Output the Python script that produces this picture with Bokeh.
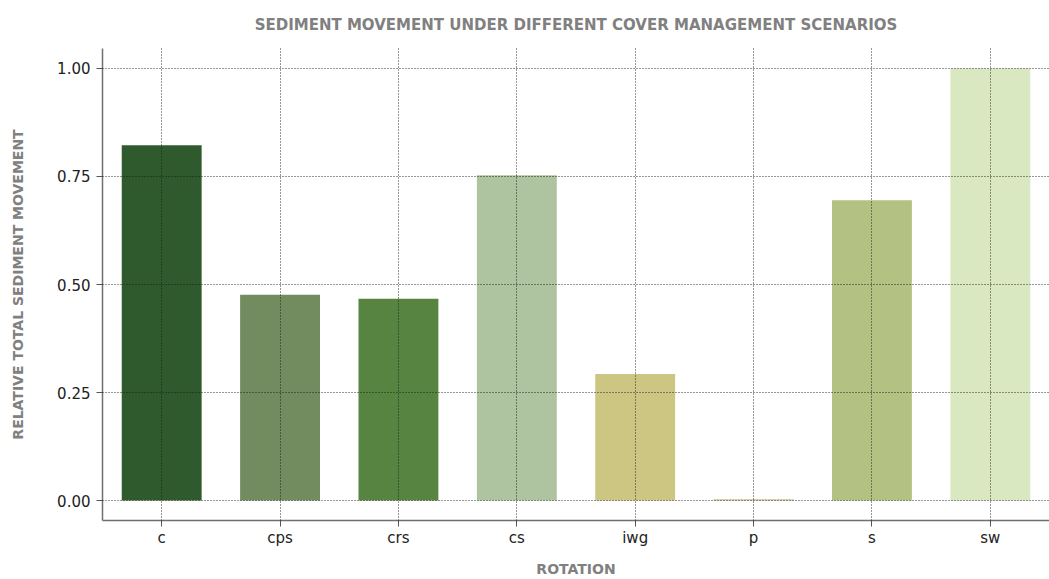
from bokeh.plotting import figure
from bokeh.models import ColumnDataSource, FixedTicker, NumeralTickFormatter, Range1d
from bokeh.embed import file_html
from bokeh.resources import INLINE

rotations = ["c", "cps", "crs", "cs", "iwg", "p", "s", "sw"]
relative_sediment = [0.822, 0.476, 0.467, 0.753, 0.293, 0.003, 0.695, 1.0]
bar_colors = ["#2f5a2d", "#728c5f", "#588442", "#aec3a0", "#cdc683", "#c9c18b", "#b3c282", "#dae8c1"]
y_ticks = [0.0, 0.25, 0.5, 0.75, 1.0]

source = ColumnDataSource(dict(rotation=rotations, value=relative_sediment, color=bar_colors))

p = figure(
    x_range=rotations,
    y_range=Range1d(-0.046, 1.046),
    width=1049,
    height=579,
    output_backend="svg",
    toolbar_location=None,
    min_border_left=102,
    min_border_right=0,
    min_border_top=48,
    min_border_bottom=40,
    title="SEDIMENT MOVEMENT UNDER DIFFERENT COVER MANAGEMENT SCENARIOS",
)

p.vbar(x="rotation", top="value", bottom=0, width=0.675, color="color", line_color=None, source=source)

p.title.align = "center"
p.title.text_font = "DejaVu Sans"
p.title.text_font_size = "15px"
p.title.text_font_style = "bold"
p.title.text_color = "#808080"
p.title.standoff = 26
p.title.vertical_align = "top"

p.outline_line_color = None
p.background_fill_color = "white"
p.border_fill_color = "white"

for g in (p.xgrid, p.ygrid):
    g.grid_line_color = "#1a1a1a"
    g.grid_line_dash = "1 2"
    g.grid_line_width = 1
    g.grid_line_alpha = 0.9
    g.level = "overlay"

p.yaxis.ticker = FixedTicker(ticks=y_ticks)
p.yaxis.formatter = NumeralTickFormatter(format="0.00")

for ax in (p.xaxis, p.yaxis):
    ax.axis_line_color = "#6f6f6f"
    ax.axis_line_width = 1.5
    ax.major_tick_line_color = "#555555"
    ax.major_tick_line_width = 1
    ax.major_tick_in = 0
    ax.major_tick_out = 6
    ax.minor_tick_line_color = None
    ax.major_label_text_font = "DejaVu Sans"
    ax.major_label_text_font_size = "15px"
    ax.major_label_text_color = "#222222"
    ax.axis_label_text_font = "DejaVu Sans"
    ax.axis_label_text_font_size = "14px"
    ax.axis_label_text_font_style = "bold"
    ax.axis_label_text_color = "#808080"

p.yaxis.axis_label = "RELATIVE TOTAL SEDIMENT MOVEMENT"
p.xaxis.axis_label = "ROTATION"
p.yaxis.major_label_standoff = 6
p.yaxis.axis_label_standoff = 28
p.xaxis.major_label_standoff = 2
p.xaxis.axis_label_standoff = 11

open("out.html", "w").write(file_html(p, INLINE))
